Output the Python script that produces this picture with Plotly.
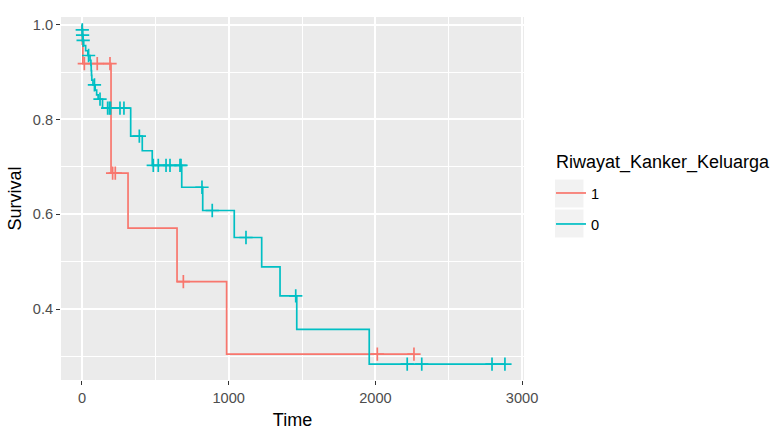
import numpy as np
import plotly.graph_objects as go

# ---- data ----
group_names = ["1", "0"]
legend_title = "Riwayat_Kanker_Keluarga"

red_times = [0, 2, 6, 198, 314, 648, 986]
red_surv = [1.0, 0.959, 0.918, 0.687, 0.571, 0.458, 0.305]
red_end = 2263
red_censor = [16, 104, 191, 209, 227, 691, 2013, 2263]

cyan_times = [0, 1, 3, 5, 12, 25, 40, 55, 61, 63, 65, 67, 75, 90, 100, 110, 140,
              332, 411, 479, 680, 823, 1038, 1225, 1350, 1464, 1958]
cyan_surv = [1.0, 0.989, 0.978, 0.967, 0.956, 0.945, 0.935, 0.925, 0.914, 0.903, 0.893, 0.883,
             0.873, 0.862, 0.852, 0.843, 0.824,
             0.765, 0.734, 0.703, 0.657, 0.608, 0.551, 0.489, 0.428, 0.357, 0.284]
cyan_end = 2883
cyan_censor = [2, 4, 8, 45, 85, 123, 175, 187, 195, 259, 286, 391, 486, 520, 573, 600,
               668, 675, 818, 888, 1118, 1457, 2217, 2316, 2795, 2883]

x_ticks = [0, 1000, 2000, 3000]
y_ticks = [0.4, 0.6, 0.8, 1.0]
y_ticktext = ["0.4", "0.6", "0.8", "1.0"]

colors = ["#F8766D", "#00BFC4"]
FONT = "Liberation Sans, Arial, sans-serif"


def step_value(times, surv, t):
    idx = np.searchsorted(np.array(times), t, side="right") - 1
    return float(surv[idx])


fig = go.Figure()
series = [
    (group_names[0], red_times, red_surv, red_end, red_censor, colors[0]),
    (group_names[1], cyan_times, cyan_surv, cyan_end, cyan_censor, colors[1]),
]
for name, times, surv, end, cens, col in series:
    xs = list(times) + [end]
    ys = list(surv) + [surv[-1]]
    fig.add_trace(go.Scatter(
        x=xs, y=ys, mode="lines", line=dict(color=col, width=1.7, shape="hv"),
        name=name, legendgroup=name, showlegend=True, hoverinfo="skip"))
    cy = [step_value(times, surv, c) for c in cens]
    fig.add_trace(go.Scatter(
        x=cens, y=cy, mode="markers", legendgroup=name, showlegend=False,
        marker=dict(symbol="cross-thin", size=9.5, color=col,
                    line=dict(color=col, width=1.7)),
        hoverinfo="skip"))

L, R, T, B = 61, 257, 17, 50
W, H = 781, 430
pw = W - L - R
ph = H - T - B


def px_to_paper_x(px):
    return (px - L) / pw


def px_to_paper_y(py):
    return (H - B - py) / ph


# grey key backgrounds like ggplot legend keys
for top, bot in [(179.5, 207.5), (209.5, 237.5)]:
    fig.add_shape(type="rect", xref="paper", yref="paper",
                  x0=px_to_paper_x(555), x1=px_to_paper_x(583.5),
                  y0=px_to_paper_y(bot), y1=px_to_paper_y(top),
                  fillcolor="#F2F2F2", line=dict(width=0), layer="below")

# legend title
fig.add_annotation(text=legend_title, xref="paper", yref="paper",
                   x=px_to_paper_x(554), y=px_to_paper_y(162),
                   xanchor="left", yanchor="middle", showarrow=False,
                   font=dict(family=FONT, size=18, color="black"))

axis_common = dict(
    showgrid=True, gridcolor="white", gridwidth=1.6, zeroline=False, automargin=False,
    showline=False, ticks="outside", ticklen=4, tickwidth=1.1, tickcolor="#333333",
    tickfont=dict(family=FONT, size=14.6, color="#4D4D4D"),
)

fig.update_layout(
    width=W, height=H,
    margin=dict(l=L, r=R, t=T, b=B, autoexpand=False),
    paper_bgcolor="white", plot_bgcolor="#EBEBEB",
    font=dict(family=FONT),
    showlegend=True,
    legend=dict(
        x=px_to_paper_x(551), y=px_to_paper_y(177), xanchor="left", yanchor="top",
        font=dict(family=FONT, size=14.6, color="black"),
        bgcolor="rgba(0,0,0,0)", tracegroupgap=9, itemwidth=30,
        traceorder="grouped",
    ),
    xaxis=dict(
        range=[-143, 3013], tickvals=x_ticks,
        minor=dict(dtick=500, tick0=0, showgrid=True, gridcolor="white", gridwidth=0.8, ticks=""),
        title=dict(text="Time", font=dict(family=FONT, size=18, color="black"), standoff=8),
        **axis_common),
    yaxis=dict(
        range=[0.2504, 1.0162], tickvals=y_ticks, ticktext=y_ticktext,
        minor=dict(dtick=0.1, tick0=0, showgrid=True, gridcolor="white", gridwidth=0.8, ticks=""),
        title=dict(text="Survival", font=dict(family=FONT, size=18, color="black"), standoff=6),
        **axis_common),
)

fig.write_html("out.html")
